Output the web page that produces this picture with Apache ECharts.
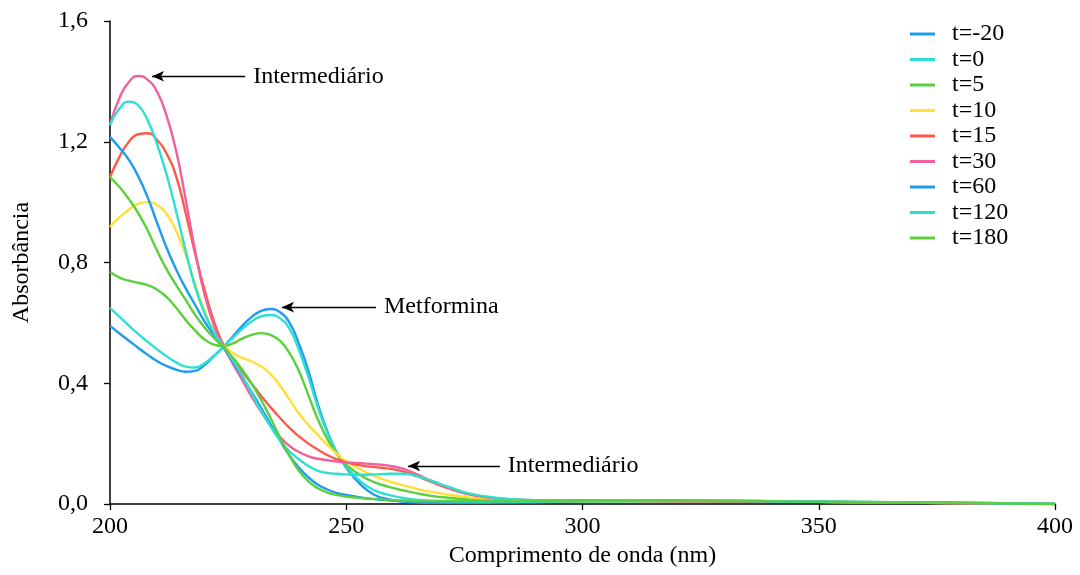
<!DOCTYPE html>
<html><head><meta charset="utf-8">
<script src="https://cdn.jsdelivr.net/npm/echarts@6/dist/echarts.min.js"></script>
<style>html,body{margin:0;padding:0;background:#fff}#c{width:1080px;height:575px}</style>
</head><body><div id="c"></div>
<script>
// wavelength (nm)
const wavelengths = [200,202,204,206,208,210,212,214,216,218,220,222,224,226,228,230,232,234,236,238,240,242,244,246,248,250,253,256,259,262,265,268,272,276,280,285,290,300,320,350,380,400];
const seriesNames = ['t=-20','t=0','t=5','t=10','t=15','t=30','t=60','t=120','t=180'];
const tMinus20 = [0.59,0.565,0.541,0.517,0.494,0.473,0.457,0.445,0.438,0.441,0.46,0.49,0.52,0.555,0.59,0.62,0.64,0.646,0.635,0.6,0.53,0.44,0.33,0.24,0.17,0.12,0.065,0.03,0.015,0.008,0.005,0.004,0.004,0.004,0.004,0.005,0.006,0.008,0.009,0.007,0.003,0.0];
const t0 = [0.65,0.62,0.591,0.563,0.537,0.512,0.489,0.469,0.455,0.452,0.466,0.491,0.52,0.55,0.58,0.605,0.622,0.626,0.615,0.58,0.51,0.42,0.32,0.235,0.17,0.125,0.075,0.045,0.03,0.02,0.014,0.01,0.008,0.007,0.007,0.007,0.008,0.009,0.01,0.007,0.003,0.0];
const t5 = [0.77,0.75,0.74,0.733,0.725,0.71,0.685,0.65,0.61,0.575,0.545,0.528,0.523,0.532,0.548,0.56,0.566,0.56,0.54,0.5,0.44,0.36,0.28,0.215,0.165,0.13,0.095,0.072,0.057,0.045,0.035,0.027,0.02,0.015,0.012,0.01,0.01,0.01,0.01,0.007,0.003,0.0];
const t10 = [0.918,0.95,0.975,0.995,1.0,0.99,0.96,0.905,0.825,0.73,0.64,0.572,0.527,0.5,0.484,0.472,0.456,0.43,0.392,0.346,0.3,0.262,0.228,0.196,0.166,0.142,0.115,0.092,0.076,0.062,0.05,0.04,0.03,0.022,0.017,0.013,0.011,0.01,0.01,0.007,0.003,0.0];
const t15 = [1.083,1.15,1.2,1.225,1.228,1.205,1.16,1.085,0.965,0.83,0.71,0.605,0.527,0.478,0.438,0.398,0.358,0.32,0.285,0.252,0.224,0.2,0.18,0.162,0.148,0.138,0.128,0.122,0.117,0.108,0.092,0.073,0.05,0.032,0.022,0.015,0.012,0.011,0.01,0.007,0.003,0.0];
const t30 = [1.255,1.345,1.398,1.418,1.405,1.365,1.285,1.17,1.01,0.84,0.695,0.592,0.522,0.465,0.41,0.355,0.305,0.26,0.222,0.192,0.172,0.158,0.15,0.145,0.141,0.138,0.135,0.132,0.127,0.117,0.098,0.077,0.052,0.033,0.022,0.015,0.012,0.011,0.01,0.007,0.003,0.0];
const t60 = [1.216,1.18,1.14,1.085,1.015,0.93,0.848,0.777,0.715,0.66,0.605,0.56,0.518,0.472,0.422,0.37,0.318,0.264,0.21,0.16,0.12,0.088,0.064,0.048,0.037,0.03,0.022,0.016,0.012,0.01,0.009,0.009,0.009,0.009,0.01,0.01,0.011,0.012,0.012,0.008,0.004,0.0];
const t120 = [1.255,1.31,1.333,1.32,1.27,1.19,1.09,0.97,0.84,0.72,0.632,0.568,0.522,0.476,0.424,0.365,0.308,0.256,0.21,0.174,0.148,0.126,0.11,0.103,0.1,0.098,0.097,0.098,0.1,0.1,0.092,0.077,0.055,0.035,0.024,0.016,0.013,0.012,0.011,0.008,0.004,0.0];
const t180 = [1.083,1.05,1.01,0.963,0.905,0.838,0.777,0.725,0.677,0.627,0.585,0.55,0.52,0.485,0.445,0.398,0.344,0.284,0.22,0.16,0.11,0.075,0.052,0.038,0.03,0.025,0.02,0.016,0.013,0.011,0.01,0.01,0.01,0.01,0.01,0.01,0.011,0.011,0.011,0.008,0.004,0.0];
const xTicks = [200,250,300,350,400];
const yTicks = [0,0.4,0.8,1.2,1.6];
const colors = ['#1e9bf2','#2ee0d2','#5ccf3c','#ffe034','#ff5a48','#f0609e','#1e9bf2','#2ee0d2','#5ccf3c'];
const annotations = [
  {text:'Intermediário', from:[228.6,1.417], to:[208.9,1.417]},
  {text:'Metformina', from:[256.3,0.652], to:[236.4,0.652]},
  {text:'Intermediário', from:[282.5,0.126], to:[263.1,0.126]}
];
const allValues = [tMinus20,t0,t5,t10,t15,t30,t60,t120,t180];

const FONT = '"Liberation Serif","Times New Roman",serif';
const chart = echarts.init(document.getElementById('c'));
const series = seriesNames.map((n,i)=>({
  name:n, type:'line', smooth:0.5, showSymbol:false, symbol:'none',
  data: wavelengths.map((w,k)=>[w, allValues[i][k]]),
  lineStyle:{width:2.4, color:colors[i]}, itemStyle:{color:colors[i]},
  z: 2
}));
series[0].markLine = {
  silent:true, symbol:['none','arrow'], symbolSize:[8,12],
  lineStyle:{color:'#000', width:1.3, type:'solid'},
  label:{show:false}, emphasis:{disabled:true},
  data: annotations.map(a=>[{coord:a.from},{coord:a.to}])
};
chart.setOption({
  animation:false,
  backgroundColor:'#fff',
  color: colors,
  grid:{left:110, right:25, top:21, bottom:71, containLabel:false},
  legend:{
    orient:'vertical', left:910, top:22, padding:0, itemWidth:25, itemHeight:3, itemGap:1.5,
    icon:'rect', data:seriesNames,
    textStyle:{fontFamily:FONT, fontSize:24, color:'#000', padding:[0,0,0,12]}
  },
  xAxis:{
    type:'value', min:xTicks[0], max:xTicks[xTicks.length-1], interval:50,
    name:'Comprimento de onda (nm)', nameLocation:'middle', nameGap:32,
    nameTextStyle:{fontFamily:FONT, fontSize:24, color:'#000'},
    axisLine:{show:true, onZero:false, lineStyle:{color:'#000', width:1.5}},
    axisTick:{show:true, length:6, lineStyle:{color:'#000', width:1.3}},
    axisLabel:{fontFamily:FONT, fontSize:24, color:'#000', margin:11},
    splitLine:{show:false}
  },
  yAxis:{
    type:'value', min:yTicks[0], max:yTicks[yTicks.length-1], interval:0.4,
    name:'Absorbância', nameLocation:'middle', nameGap:76, nameRotate:90,
    nameTextStyle:{fontFamily:FONT, fontSize:24, color:'#000'},
    axisLine:{show:true, lineStyle:{color:'#000', width:1.5}},
    axisTick:{show:true, length:6, lineStyle:{color:'#000', width:1.3}},
    axisLabel:{fontFamily:FONT, fontSize:24, color:'#000', margin:22,
      formatter:v=>v.toFixed(1).replace('.',',')},
    splitLine:{show:false}
  },
  series: series
});
const g = annotations.map(a=>{
  const p = chart.convertToPixel({gridIndex:0}, a.from);
  return {type:'text', x:p[0]+8, y:p[1], silent:true,
    style:{text:a.text, font:'24px '+FONT, fill:'#000', align:'left', verticalAlign:'middle'}};
});
chart.setOption({graphic:g});
</script></body></html>
